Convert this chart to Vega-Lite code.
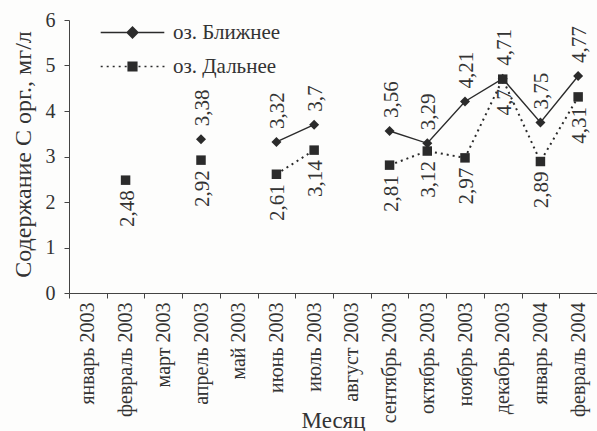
{
  "$schema": "https://vega.github.io/schema/vega-lite/v6.json",
  "autosize": {"type": "none"},
  "width": 528,
  "height": 273,
  "padding": {"left": 69, "top": 20, "right": 0, "bottom": 138},
  "background": "#fdfdfc",
  "config": {
    "font": "Liberation Serif",
    "view": {"stroke": null},
    "locale": {"number": {"decimal": ",", "thousands": " ", "grouping": [3], "currency": ["", ""]}},
    "axis": {"labelFont": "Liberation Serif", "titleFont": "Liberation Serif", "labelColor": "#333", "titleColor": "#333", "domainColor": "#444", "tickColor": "#444", "titleFontWeight": "normal", "grid": false}
  },
  "data": {
    "values": [
      {"m": "апрель 2003", "lake": "оз. Ближнее", "v": 3.38, "seg": "B1"},
      {"m": "июнь 2003", "lake": "оз. Ближнее", "v": 3.32, "seg": "B2"},
      {"m": "июль 2003", "lake": "оз. Ближнее", "v": 3.7, "seg": "B2"},
      {"m": "сентябрь 2003", "lake": "оз. Ближнее", "v": 3.56, "seg": "B3"},
      {"m": "октябрь 2003", "lake": "оз. Ближнее", "v": 3.29, "seg": "B3"},
      {"m": "ноябрь 2003", "lake": "оз. Ближнее", "v": 4.21, "seg": "B3"},
      {"m": "декабрь 2003", "lake": "оз. Ближнее", "v": 4.71, "seg": "B3"},
      {"m": "январь 2004", "lake": "оз. Ближнее", "v": 3.75, "seg": "B3"},
      {"m": "февраль 2004", "lake": "оз. Ближнее", "v": 4.77, "seg": "B3"},
      {"m": "февраль 2003", "lake": "оз. Дальнее", "v": 2.48, "seg": "D1"},
      {"m": "апрель 2003", "lake": "оз. Дальнее", "v": 2.92, "seg": "D2"},
      {"m": "июнь 2003", "lake": "оз. Дальнее", "v": 2.61, "seg": "D3"},
      {"m": "июль 2003", "lake": "оз. Дальнее", "v": 3.14, "seg": "D3"},
      {"m": "сентябрь 2003", "lake": "оз. Дальнее", "v": 2.81, "seg": "D4"},
      {"m": "октябрь 2003", "lake": "оз. Дальнее", "v": 3.12, "seg": "D4"},
      {"m": "ноябрь 2003", "lake": "оз. Дальнее", "v": 2.97, "seg": "D4"},
      {"m": "декабрь 2003", "lake": "оз. Дальнее", "v": 4.7, "seg": "D4"},
      {"m": "январь 2004", "lake": "оз. Дальнее", "v": 2.89, "seg": "D4"},
      {"m": "февраль 2004", "lake": "оз. Дальнее", "v": 4.31, "seg": "D4"}
    ]
  },
  "encoding": {
    "x": {
      "field": "m", "type": "nominal",
      "scale": {"domain": ["январь 2003", "февраль 2003", "март 2003", "апрель 2003", "май 2003", "июнь 2003", "июль 2003", "август 2003", "сентябрь 2003", "октябрь 2003", "ноябрь 2003", "декабрь 2003", "январь 2004", "февраль 2004"], "paddingInner": 0, "paddingOuter": 0},
      "axis": {"title": "Месяц", "titleFontSize": 23, "titleBaseline": "alphabetic", "titleY": 134, "titleX": 264, "labelAngle": 270, "labelFontSize": 20, "labelPadding": 4, "tickSize": 5, "tickBand": "extent", "labelOverlap": false}
    },
    "y": {
      "field": "v", "type": "quantitative",
      "scale": {"domain": [0, 6], "nice": false},
      "axis": {"title": "Содержание С орг., мг/л", "titleFontSize": 24, "titleX": -46, "titleY": 134, "titleBaseline": "middle", "titleAlign": "center", "labelFontSize": 20, "labelPadding": 9, "tickSize": 5, "values": [0, 1, 2, 3, 4, 5, 6], "format": "d"}
    }
  },
  "layer": [
    {
      "transform": [{"filter": "datum.lake == 'оз. Ближнее'"}],
      "mark": {"type": "line", "color": "#2b2b2b", "strokeWidth": 1.4},
      "encoding": {"detail": {"field": "seg"}}
    },
    {
      "transform": [{"filter": "datum.lake == 'оз. Дальнее'"}],
      "mark": {"type": "line", "color": "#2b2b2b", "strokeWidth": 2, "strokeDash": [2, 4]},
      "encoding": {"detail": {"field": "seg"}}
    },
    {
      "transform": [{"filter": "datum.lake == 'оз. Ближнее'"}],
      "mark": {"type": "point", "shape": "diamond", "filled": true, "color": "#2b2b2b", "opacity": 1, "size": 100}
    },
    {
      "transform": [{"filter": "datum.lake == 'оз. Дальнее'"}],
      "mark": {"type": "point", "shape": "square", "filled": true, "color": "#2b2b2b", "opacity": 1, "size": 90}
    },
    {
      "mark": {"type": "point", "filled": false, "color": "#2b2b2b", "opacity": 0, "size": 144},
      "encoding": {
        "shape": {
          "field": "lake", "type": "nominal",
          "scale": {"domain": ["оз. Ближнее", "оз. Дальнее"], "range": [
            "M-5.3,0H5.3M-0.9,0L0,-0.9L0.9,0L0,0.9ZM-0.6,0L0,-0.6L0.6,0L0,0.6ZM-0.3,0L0,-0.3L0.3,0L0,0.3Z",
            "M-5.3,0h0.33M-4.3,0h0.33M-3.3,0h0.33M-2.3,0h0.33M-1.3,0h0.33M1,0h0.33M2,0h0.33M3,0h0.33M4,0h0.33M5,0h0.33M-0.72,-0.72H0.72V0.72H-0.72ZM-0.48,-0.48H0.48V0.48H-0.48ZM-0.24,-0.24H0.24V0.24H-0.24ZM-0.05,-0.05H0.05V0.05H-0.05Z"
          ]},
          "legend": {
            "title": null, "orient": "none", "legendX": 53, "legendY": 2,
            "symbolSize": 144, "symbolOpacity": 1, "symbolStrokeWidth": 1.5, "symbolStrokeColor": "#2b2b2b",
            "labelFontSize": 21, "labelFont": "Liberation Serif", "labelColor": "#333",
            "labelOffset": 30, "rowPadding": 12, "padding": 0
          }
        }
      }
    },
    {
      "transform": [{"filter": "datum.lake == 'оз. Ближнее'"}],
      "mark": {"type": "text", "angle": 270, "align": "left", "baseline": "middle", "dx": 13, "dy": 2, "fontSize": 21, "color": "#333", "font": "Liberation Serif"},
      "encoding": {"text": {"field": "v", "type": "quantitative", "format": ".3~g"}}
    },
    {
      "transform": [{"filter": "datum.lake == 'оз. Дальнее'"}],
      "mark": {"type": "text", "angle": 270, "align": "right", "baseline": "middle", "dx": -10, "dy": 2, "fontSize": 21, "color": "#333", "font": "Liberation Serif"},
      "encoding": {"text": {"field": "v", "type": "quantitative", "format": ".3~g"}}
    }
  ]
}
